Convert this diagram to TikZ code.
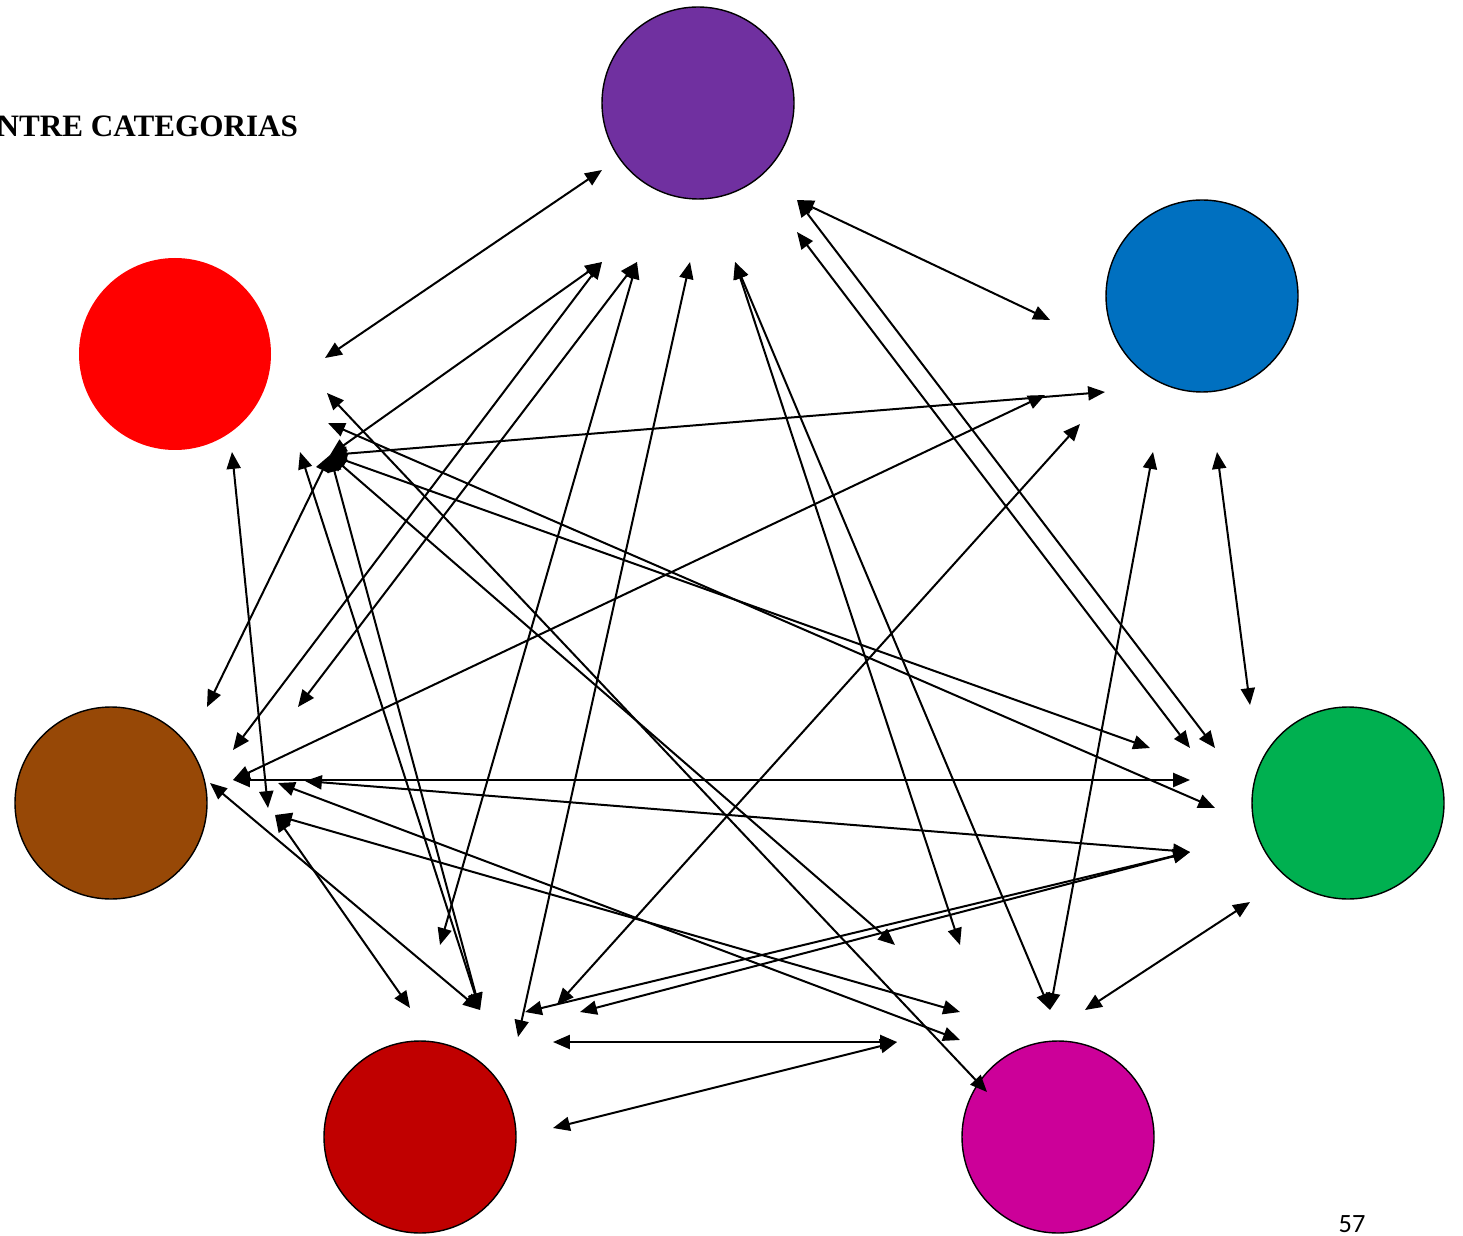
\documentclass[tikz,border=0pt]{standalone}
\usepackage{fontspec}
\setmainfont{Liberation Serif}
\newfontfamily\calibri{Carlito}
\usetikzlibrary{arrows.meta}

\definecolor{morado}{HTML}{7030A0}
\definecolor{azul}{HTML}{0070C0}
\definecolor{rojo}{HTML}{FF0000}
\definecolor{cafe}{HTML}{974806}
\definecolor{verde}{HTML}{00B050}
\definecolor{granate}{HTML}{C00000}
\definecolor{magenta}{HTML}{CC0099}

\begin{document}
\begin{tikzpicture}[x=.1mm, y=-.1mm,
  categoria/.style={circle, draw=black, line width=.4pt, minimum size=19.2mm, inner sep=0},
  flecha/.style={black, line width=.57pt, {Triangle[length=4.8pt,width=4pt]}-{Triangle[length=4.8pt,width=4pt]}}]
\useasboundingbox (0,0) rectangle (1463,1235);
% categorias
\node[categoria, fill=morado] (morado) at (698,103) {};
\node[categoria, fill=azul] (azul) at (1202,296) {};
\node[categoria, fill=rojo, draw=none] (rojo) at (175,354) {};
\node[categoria, fill=cafe] (cafe) at (111,803) {};
\node[categoria, fill=verde] (verde) at (1348,803) {};
\node[categoria, fill=granate] (granate) at (420,1137) {};
\node[categoria, fill=magenta] (magenta) at (1058,1137) {};
\node[anchor=base west, inner sep=0, font=\fontsize{8.86}{10}\selectfont\bfseries] (titulo) at (-4,137) {NTRE CATEGORIAS};
\node[anchor=base west, inner sep=0, font=\calibri\fontsize{7.5}{9}\selectfont] (pagina) at (1338,1232) {57};
% puntas junto a morado
\coordinate (mo1) at (602,170);
\coordinate (mo2) at (602,262);
\coordinate (mo3) at (637,262);
\coordinate (mo4) at (690,262);
\coordinate (mo5) at (735,262);
\coordinate (mo6) at (797,200);
\coordinate (mo7) at (797,232);
% puntas junto a azul
\coordinate (az1) at (1050,320);
\coordinate (az2) at (1045,395);
\coordinate (az3) at (1105,392);
\coordinate (az4) at (1080,424);
\coordinate (az5) at (1153,452);
\coordinate (az6) at (1217,452);
% puntas junto a rojo
\coordinate (ro1) at (325,358);
\coordinate (ro2) at (327,393);
\coordinate (ro3) at (328,423);
\coordinate (ro4) at (330,455);
\coordinate (ro5) at (300,452);
\coordinate (ro6) at (232,452);
% puntas junto a cafe
\coordinate (ca1) at (207,707);
\coordinate (ca2) at (298,707);
\coordinate (ca3) at (233,750);
\coordinate (ca4) at (233,780);
\coordinate (ca5) at (210,783);
\coordinate (ca6) at (278,783);
\coordinate (ca7) at (305,781);
\coordinate (ca8) at (268,808);
\coordinate (ca9) at (275,815);
% puntas junto a verde
\coordinate (ve1) at (1150,748);
\coordinate (ve2) at (1190,748);
\coordinate (ve3) at (1215,748);
\coordinate (ve4) at (1250,705);
\coordinate (ve5) at (1190,780);
\coordinate (ve6) at (1215,808);
\coordinate (ve7) at (1190,852);
\coordinate (ve8) at (1250,902);
% puntas junto a granate
\coordinate (gr1) at (410,1008);
\coordinate (gr2) at (440,945);
\coordinate (gr3) at (480,1010);
\coordinate (gr4) at (518,1037);
\coordinate (gr5) at (525,1012);
\coordinate (gr6) at (557,1005);
\coordinate (gr7) at (580,1012);
\coordinate (gr8) at (553,1042);
\coordinate (gr9) at (553,1128);
% puntas junto a magenta
\coordinate (ma1) at (895,945);
\coordinate (ma2) at (960,945);
\coordinate (ma3) at (1050,1010);
\coordinate (ma4) at (1085,1010);
\coordinate (ma5) at (897,1042);
\coordinate (ma6) at (960,1012);
\coordinate (ma7) at (960,1040);
\coordinate (ma8) at (987,1092);
% relaciones
\foreach \a/\b in {ro1/mo1, mo6/az1, mo6/ve3, mo7/ve2, az6/ve4, ma4/ve8, gr8/ma5, gr9/ma5,
  ca4/ve5, ca4/az2, ro4/az3, ro2/ma8, ro3/ve6, ro4/ve1, ro4/ma1, ro4/ca1, ro4/gr3, ro5/gr3,
  ro4/mo2, ca3/mo2, ca2/mo3, gr2/mo3, gr4/mo4, mo5/ma2, mo5/ma3, az5/ma3, az4/gr6, ro6/ca8,
  ca7/ve7, ca6/ma7, ca9/ma6, ca9/gr1, ca5/gr3, gr5/ve7, gr7/ve7}
  \draw[flecha] (\a) -- (\b);
\end{tikzpicture}
\end{document}
